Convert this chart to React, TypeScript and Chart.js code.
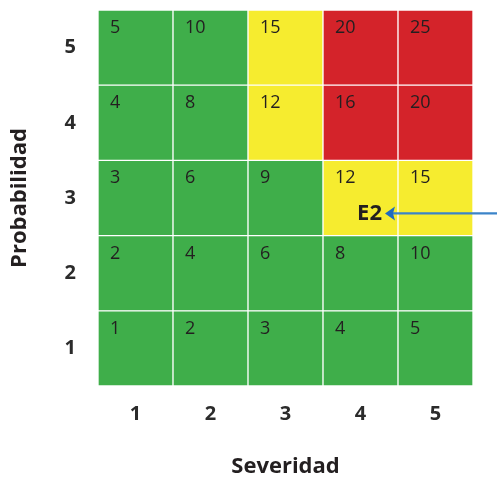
import React, { useEffect, useRef } from "react";
import { Chart, registerables } from "chart.js";

Chart.register(...registerables);

// Axis categories
const severityLabels = ["1", "2", "3", "4", "5"];
const probabilityLabels = ["1", "2", "3", "4", "5"];

// Risk scores per probability row (row 1 = bottom)
const scoresP1 = [1, 2, 3, 4, 5];
const scoresP2 = [2, 4, 6, 8, 10];
const scoresP3 = [3, 6, 9, 12, 15];
const scoresP4 = [4, 8, 12, 16, 20];
const scoresP5 = [5, 10, 15, 20, 25];

// Risk levels per probability row
const levelsP1 = ["low", "low", "low", "low", "low"];
const levelsP2 = ["low", "low", "low", "low", "low"];
const levelsP3 = ["low", "low", "low", "medium", "medium"];
const levelsP4 = ["low", "low", "medium", "high", "high"];
const levelsP5 = ["low", "low", "medium", "high", "high"];

// Marked event
const eventLabel = "E2";
const eventSeverity = "4";
const eventProbability = "3";

const scoreRows = [scoresP1, scoresP2, scoresP3, scoresP4, scoresP5];
const levelRows = [levelsP1, levelsP2, levelsP3, levelsP4, levelsP5];

const levelColors: Record<string, string> = {
  low: "#3fae4a",
  medium: "#f6ec2f",
  high: "#d4232a",
};

const FONT = '"Open Sans", "DejaVu Sans", sans-serif';

const cellTextPlugin = {
  id: "cellText",
  afterDatasetsDraw(chart: any) {
    const ctx = chart.ctx as CanvasRenderingContext2D;
    ctx.save();
    ctx.font = `18px ${FONT}`;
    ctx.fillStyle = "#231f20";
    ctx.textAlign = "left";
    ctx.textBaseline = "alphabetic";
    chart.data.datasets.forEach((_ds: any, di: number) => {
      const meta = chart.getDatasetMeta(di);
      meta.data.forEach((el: any, i: number) => {
        const { x, y, width } = el.getProps(["x", "y", "width"], true);
        ctx.fillText(String(scoreRows[di][i]), x - width / 2 + 12, y + 23);
      });
    });

    // Event marker
    const di = probabilityLabels.indexOf(eventProbability);
    const ci = severityLabels.indexOf(eventSeverity);
    const el: any = chart.getDatasetMeta(di).data[ci];
    if (el) {
      const { x, y, width, base } = el.getProps(["x", "y", "width", "base"], true);
      const right = x + width / 2;
      const h = base - y;
      const cy = y + h * 0.705;
      ctx.font = `bold 22px ${FONT}`;
      ctx.textAlign = "right";
      ctx.textBaseline = "middle";
      ctx.fillStyle = "#231f20";
      ctx.fillText(eventLabel, right - 16, cy);

      const tipX = right - 13;
      ctx.strokeStyle = "#3b84c9";
      ctx.lineWidth = 2.2;
      ctx.beginPath();
      ctx.moveTo(chart.width, cy);
      ctx.lineTo(tipX + 8, cy);
      ctx.stroke();
      ctx.fillStyle = "#1f6bbf";
      ctx.beginPath();
      ctx.moveTo(tipX, cy);
      ctx.lineTo(tipX + 10, cy - 7);
      ctx.lineTo(tipX + 8, cy);
      ctx.lineTo(tipX + 10, cy + 7);
      ctx.closePath();
      ctx.fill();
    }
    ctx.restore();
  },
};

export default function App() {
  const canvasRef = useRef<HTMLCanvasElement | null>(null);

  useEffect(() => {
    if (!canvasRef.current) return;
    const datasets = scoreRows.map((row, ri) => ({
      label: probabilityLabels[ri],
      data: row.map(() => 1),
      backgroundColor: levelRows[ri].map((l) => levelColors[l]),
      borderColor: "rgba(255,255,255,0.8)",
      borderWidth: 1,
      borderSkipped: false as const,
      barPercentage: 1,
      categoryPercentage: 1,
      stack: "grid",
    }));

    const chart = new Chart(canvasRef.current, {
      type: "bar",
      data: { labels: severityLabels, datasets },
      plugins: [cellTextPlugin],
      options: {
        responsive: false,
        animation: false,
        layout: { padding: { top: 10, right: 24, left: 0, bottom: 0 } },
        plugins: {
          legend: { display: false },
          tooltip: { enabled: false },
        },
        scales: {
          x: {
            type: "category",
            stacked: true,
            grid: { display: false },
            border: { display: false },
            ticks: {
              padding: 8,
              color: "#2b2b2b",
              font: { family: FONT, size: 20, weight: "bold" },
            },
            title: {
              display: true,
              text: "Severidad",
              color: "#231f20",
              font: { family: FONT, size: 22, weight: "bold", lineHeight: 1 },
              padding: { top: 0, bottom: 0 },
            },
            afterFit(scale: any) {
              scale.height = 92;
              scale.paddingLeft = 0;
              scale.paddingRight = 0;
            },
          },
          y: {
            type: "linear",
            stacked: true,
            min: 0,
            max: 5,
            grid: { display: false },
            border: { display: false },
            afterBuildTicks(scale: any) {
              scale.ticks = probabilityLabels.map((_l, i) => ({ value: i + 0.5 }));
            },
            ticks: {
              padding: 14,
              color: "#2b2b2b",
              font: { family: FONT, size: 20, weight: "bold" },
              callback: (value: any) => probabilityLabels[Math.floor(Number(value))],
            },
            title: {
              display: true,
              text: "Probabilidad",
              color: "#231f20",
              font: { family: FONT, size: 22, weight: "bold", lineHeight: 1 },
              padding: { top: 9, bottom: 0 },
            },
            afterFit(scale: any) {
              scale.width = 98;
              scale.paddingTop = 0;
              scale.paddingBottom = 0;
            },
          },
        },
      },
    });
    return () => chart.destroy();
  }, []);

  return (
    <div style={{ position: "absolute", left: 0, top: 0, width: 497, height: 478, background: "#ffffff" }}>
      <canvas ref={canvasRef} width={497} height={478} style={{ width: 497, height: 478 }} />
    </div>
  );
}
